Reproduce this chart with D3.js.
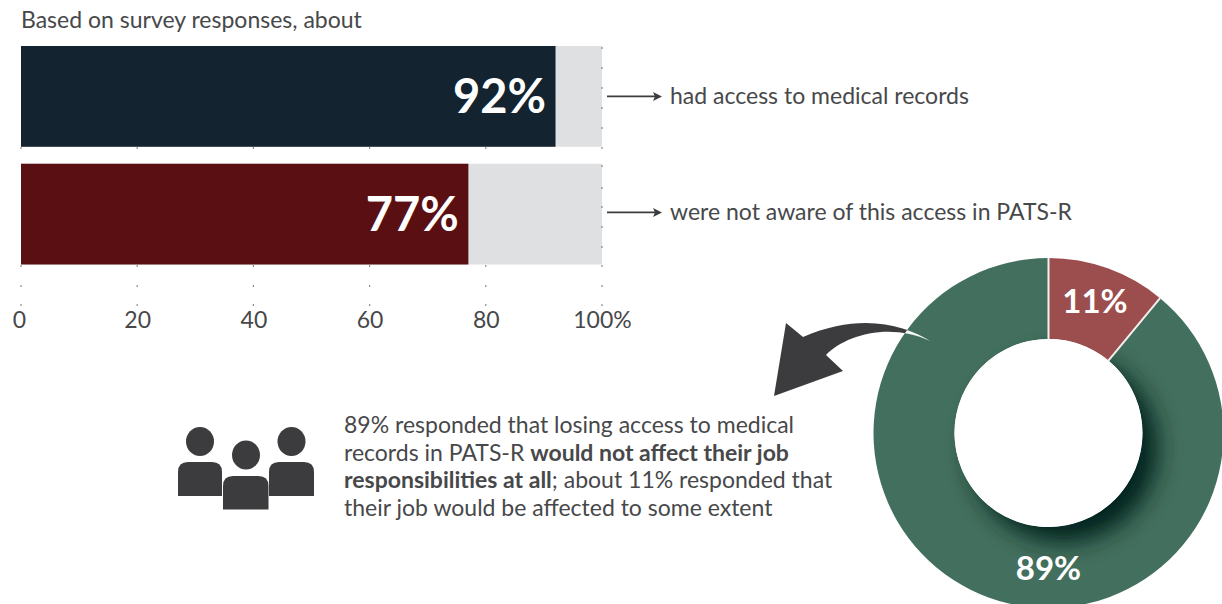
<!DOCTYPE html>
<html><head><meta charset="utf-8">
<script src="https://cdn.jsdelivr.net/npm/d3@7/dist/d3.min.js"></script>
<style>
html,body{margin:0;padding:0;background:#fff;overflow:hidden}
text{font-family:Lato,"Open Sans",sans-serif}
</style></head><body>
<svg id="chart" width="1222" height="604"></svg>
<script>
const barLabels = ["had access to medical records", "were not aware of this access in PATS-R"];
const barValues = [92, 77];
const barColors = ["#132330", "#5a1012"];
const axisTicks = [0, 20, 40, 60, 80, 100];
const donutLabels = ["11%", "89%"];
const donutValues = [11, 89];
const donutColors = ["#9c4d4e", "#43705e"];
const noteLines = [
  [["89% responded that losing access to medical", 400]],
  [["records in PATS-R ", 400], ["would not affect their job", 700]],
  [["responsibilities at all", 700], ["; about 11% responded that", 400]],
  [["their job would be affected to some extent", 400]]
];

const ink = "#3c3c3e";
const textInk = "#47484a";
const svg = d3.select("#chart");
const defs = svg.append("defs");

// Soft shadow cast by the donut hole onto the ring
const blur = defs.append("filter").attr("id", "holeShadow")
  .attr("x", "-40%").attr("y", "-40%").attr("width", "180%").attr("height", "180%");
blur.append("feGaussianBlur").attr("stdDeviation", 12);

svg.append("text").attr("x", 21).attr("y", 27.5).attr("font-size", 23)
  .attr("fill", textInk).text("Based on survey responses, about");

// Horizontal bars
const x = d3.scaleLinear().domain([0, 100]).range([21, 602]);
const y = d3.scaleBand().domain(d3.range(barValues.length)).range([46, 264.5]).paddingInner(0.144);

const rows = svg.append("g").selectAll("g").data(barValues).join("g");
rows.append("rect").attr("x", x(0)).attr("y", (d, i) => y(i))
  .attr("width", x(100) - x(0)).attr("height", y.bandwidth()).attr("fill", "#dfe0e2");
rows.append("rect").attr("x", x(0)).attr("y", (d, i) => y(i))
  .attr("width", d => x(d) - x(0)).attr("height", y.bandwidth())
  .attr("fill", (d, i) => barColors[i]);
rows.append("text").attr("x", d => x(d) - 9.5)
  .attr("y", (d, i) => y(i) + y.bandwidth() / 2 + 16.5)
  .attr("text-anchor", "end").attr("font-size", 47).attr("font-weight", 700)
  .attr("fill", "#fff").text(d => d + "%");

// Leader arrows and bar captions
const arrowY = i => y(i) + y.bandwidth() / 2 - i * 1.7;
rows.append("line").attr("x1", 607).attr("x2", 656)
  .attr("y1", (d, i) => arrowY(i)).attr("y2", (d, i) => arrowY(i))
  .attr("stroke", ink).attr("stroke-width", 1.8);
rows.append("path")
  .attr("d", (d, i) => d3.line()([[653, arrowY(i) - 4.5], [662, arrowY(i)], [653, arrowY(i) + 4.5], [655, arrowY(i)]]) + "Z")
  .attr("fill", ink);
rows.append("text").attr("x", 670).attr("y", (d, i) => arrowY(i) + 7.5)
  .attr("font-size", 23).attr("fill", textInk).text((d, i) => barLabels[i]);

// Faint dots left at the tick positions, under the bars and along the right edge
const dotYs = [148, 266, 286, 305];
const edgeYs = [48, 68, 88, 108, 128, 166, 188, 207, 227, 247];
const dots = svg.append("g").attr("fill", "#6f7174");
axisTicks.forEach(t => dotYs.forEach(yy => {
  dots.append("rect").attr("x", x(t) - 0.6).attr("y", yy - 0.8).attr("width", 1.2).attr("height", 1.6);
}));
edgeYs.forEach(yy => {
  dots.append("rect").attr("x", x(100) - 0.6).attr("y", yy - 0.8).attr("width", 1.2).attr("height", 1.6);
});

// Value axis labels
const axis = d3.axisBottom(x).tickValues(axisTicks).tickSize(0)
  .tickFormat(d => d === 100 ? "100%" : d);
const axisG = svg.append("g").attr("transform", "translate(0,328)").call(axis);
axisG.select(".domain").remove();
axisG.selectAll("text").attr("font-size", 23).attr("fill", textInk)
  .style("font-family", "Lato, sans-serif").attr("dy", 0).attr("y", 0)
  .attr("x", d => d === 0 ? -2 : 0);

// Curved pointer, laid under the ring
const pointer = "M930,341 C905,325 860,312 803,337 L786,323 L774,396 L843,371 L826,355 C845,335 890,322 930,341 Z";
svg.append("path").attr("d", pointer).attr("fill", ink);

// Donut
const cx = 1048.5, cy = 433, outer = 175, inner = 94;
const pie = d3.pie().sort(null).value(d => d);
const arc = d3.arc().innerRadius(inner).outerRadius(outer);
const donut = svg.append("g").attr("transform", `translate(${cx},${cy})`);
const slices = pie(donutValues);
donut.selectAll("path").data(slices).join("path")
  .attr("d", arc).attr("fill", (d, i) => donutColors[i]);

defs.append("clipPath").attr("id", "ringClip").append("path")
  .attr("d", d3.arc()({innerRadius: inner, outerRadius: outer, startAngle: slices[1].startAngle, endAngle: slices[1].endAngle}));
donut.append("g").attr("clip-path", "url(#ringClip)")
  .append("circle").attr("cx", 15).attr("cy", 15).attr("r", inner)
  .attr("fill", "#03201a").attr("filter", "url(#holeShadow)");

// White dividers between the slices
donut.selectAll("line").data(slices).join("line")
  .attr("x1", d => inner * Math.sin(d.startAngle)).attr("y1", d => -inner * Math.cos(d.startAngle))
  .attr("x2", d => outer * Math.sin(d.startAngle)).attr("y2", d => -outer * Math.cos(d.startAngle))
  .attr("stroke", "#f3efec").attr("stroke-width", 2);
donut.append("circle").attr("r", inner).attr("fill", "#fff");

const labelPos = [[46.5, -120], [0, 147]];
donut.selectAll("text").data(donutLabels).join("text")
  .attr("x", (d, i) => labelPos[i][0]).attr("y", (d, i) => labelPos[i][1])
  .attr("text-anchor", "middle").attr("font-size", 33).attr("font-weight", 700)
  .attr("fill", "#fff").text(d => d);

// The part of the pointer that crosses the ring shows as a pale sliver
defs.append("clipPath").attr("id", "discClip").append("circle")
  .attr("cx", cx).attr("cy", cy).attr("r", outer);
svg.append("path").attr("d", pointer).attr("fill", "#f6f7f6").attr("clip-path", "url(#discClip)");

// Group-of-people icon
const people = [
  {hx: 200, hy: 441.5, x0: 178, x1: 222, y0: 462, y1: 496},
  {hx: 291.5, hy: 441.5, x0: 269, x1: 314, y0: 462, y1: 496},
  {hx: 246, hy: 455, x0: 223, x1: 268.5, y0: 476, y1: 509.5}
];
const icon = svg.append("g").attr("fill", ink);
people.forEach(p => {
  icon.append("ellipse").attr("cx", p.hx).attr("cy", p.hy).attr("rx", 14).attr("ry", 14.5);
  icon.append("path").attr("d",
    `M${p.x0},${p.y1} V${p.y0 + 10} Q${p.x0},${p.y0} ${p.x0 + 10},${p.y0} H${p.x1 - 10} Q${p.x1},${p.y0} ${p.x1},${p.y0 + 10} V${p.y1} Z`);
});

// Explanatory note
const note = svg.append("text").attr("font-size", 23).attr("fill", textInk);
noteLines.forEach((runs, i) => {
  runs.forEach((r, j) => {
    const s = note.append("tspan").attr("font-weight", r[1]).text(r[0]);
    if (j === 0) s.attr("x", 344).attr("y", 433 + i * 27.7);
  });
});
</script>
</body></html>
